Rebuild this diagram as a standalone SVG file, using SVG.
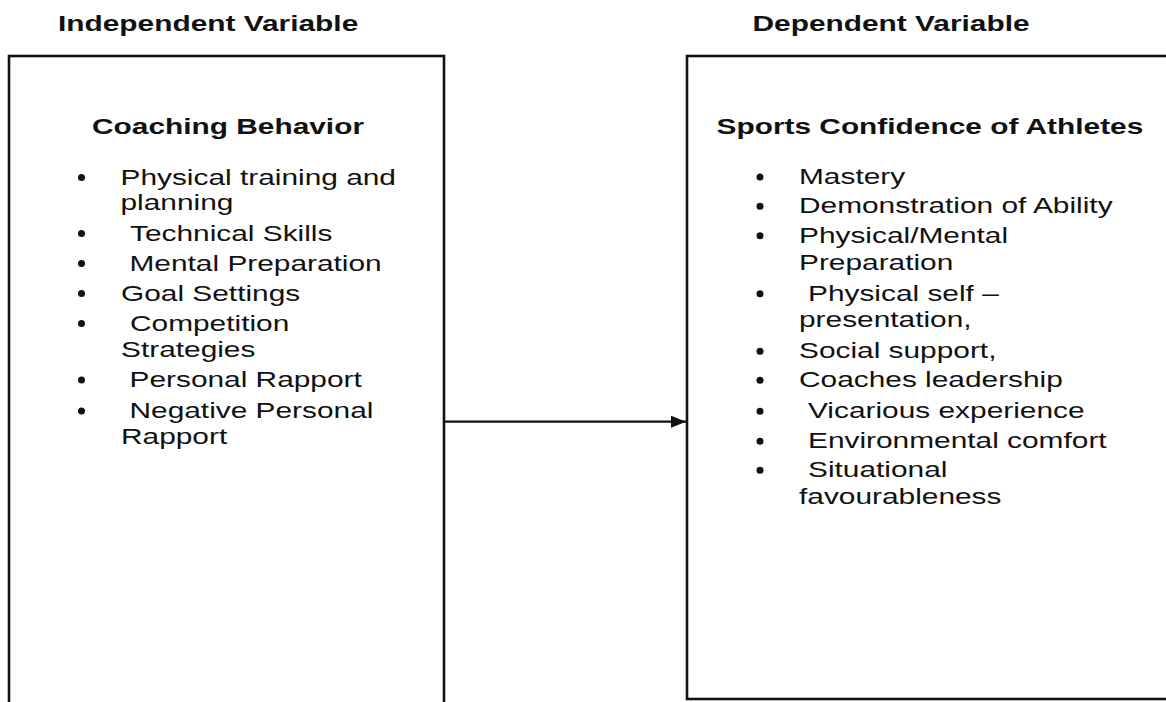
<svg xmlns="http://www.w3.org/2000/svg" width="1166" height="702" viewBox="0 0 1166 702">
  <defs>
    <style>
      .t { font-family: "Liberation Sans", Arial, sans-serif; font-size: 22px; fill: #111; }
      .b { font-weight: bold; }
      .box { fill: none; stroke: #111; stroke-width: 2.6; }
      .dot { fill: #111; }
      .conn { stroke: #111; stroke-width: 2.2; fill: none; }
    </style>
    <marker id="arrow" markerWidth="15" markerHeight="12" refX="15" refY="6" orient="auto" markerUnits="userSpaceOnUse">
      <path d="M0,0 L15,6 L0,12 Z" fill="#111"/>
    </marker>
  </defs>
  <rect width="1166" height="702" fill="#fff"/>

  <!-- column headings -->
  <g id="headings">
    <text class="t b" transform="translate(58 31) scale(1.357 1)">Independent Variable</text>
    <text class="t b" transform="translate(752.5 31) scale(1.357 1)">Dependent Variable</text>
  </g>

  <!-- independent variable box -->
  <g id="coaching-behavior">
    <rect class="box" x="9" y="56" width="435" height="660"/>
    <text class="t b" transform="translate(92 134) scale(1.357 1)">Coaching Behavior</text>
    <g class="dot">
      <circle cx="81.5" cy="177.5" r="3.5"/>
      <circle cx="81.5" cy="233.5" r="3.5"/>
      <circle cx="81.5" cy="263.5" r="3.5"/>
      <circle cx="81.5" cy="293.5" r="3.5"/>
      <circle cx="81.5" cy="323.5" r="3.5"/>
      <circle cx="81.5" cy="380" r="3.5"/>
      <circle cx="81.5" cy="411" r="3.5"/>
    </g>
    <text class="t" transform="translate(120.5 184.5) scale(1.357 1)">Physical training and</text>
    <text class="t" transform="translate(120.5 209.5) scale(1.357 1)">planning</text>
    <text class="t" transform="translate(130 240.5) scale(1.357 1)">Technical Skills</text>
    <text class="t" transform="translate(129.5 270.5) scale(1.357 1)">Mental Preparation</text>
    <text class="t" transform="translate(121 300.5) scale(1.357 1)">Goal Settings</text>
    <text class="t" transform="translate(130 330.5) scale(1.357 1)">Competition</text>
    <text class="t" transform="translate(121 356.5) scale(1.357 1)">Strategies</text>
    <text class="t" transform="translate(129.5 387.3) scale(1.357 1)">Personal Rapport</text>
    <text class="t" transform="translate(129.5 418.3) scale(1.357 1)">Negative Personal</text>
    <text class="t" transform="translate(121 444) scale(1.357 1)">Rapport</text>
  </g>

  <!-- dependent variable box -->
  <g id="sports-confidence">
    <rect class="box" x="687" y="56" width="500" height="643"/>
    <text class="t b" transform="translate(716.5 133.5) scale(1.357 1)">Sports Confidence of Athletes</text>
    <g class="dot">
      <circle cx="760" cy="177" r="3.5"/>
      <circle cx="760" cy="206.3" r="3.5"/>
      <circle cx="760" cy="235.7" r="3.5"/>
      <circle cx="760" cy="293.7" r="3.5"/>
      <circle cx="760" cy="351.3" r="3.5"/>
      <circle cx="760" cy="380.3" r="3.5"/>
      <circle cx="760" cy="411.3" r="3.5"/>
      <circle cx="760" cy="441.3" r="3.5"/>
      <circle cx="760" cy="470.3" r="3.5"/>
    </g>
    <text class="t" transform="translate(799 184) scale(1.357 1)">Mastery</text>
    <text class="t" transform="translate(799 213.3) scale(1.357 1)">Demonstration of Ability</text>
    <text class="t" transform="translate(799 242.7) scale(1.357 1)">Physical/Mental</text>
    <text class="t" transform="translate(799 270) scale(1.357 1)">Preparation</text>
    <text class="t" transform="translate(808 300.7) scale(1.357 1)">Physical self –</text>
    <text class="t" transform="translate(799 326.7) scale(1.357 1)">presentation,</text>
    <text class="t" transform="translate(799 358.3) scale(1.357 1)">Social support,</text>
    <text class="t" transform="translate(799 387.3) scale(1.357 1)">Coaches leadership</text>
    <text class="t" transform="translate(808 418.3) scale(1.357 1)">Vicarious experience</text>
    <text class="t" transform="translate(808 448.3) scale(1.357 1)">Environmental comfort</text>
    <text class="t" transform="translate(808 477.3) scale(1.357 1)">Situational</text>
    <text class="t" transform="translate(799 504) scale(1.357 1)">favourableness</text>
  </g>

  <!-- connector -->
  <g id="connectors">
    <line class="conn" x1="444" y1="421.7" x2="686" y2="421.7" marker-end="url(#arrow)"/>
  </g>
</svg>
